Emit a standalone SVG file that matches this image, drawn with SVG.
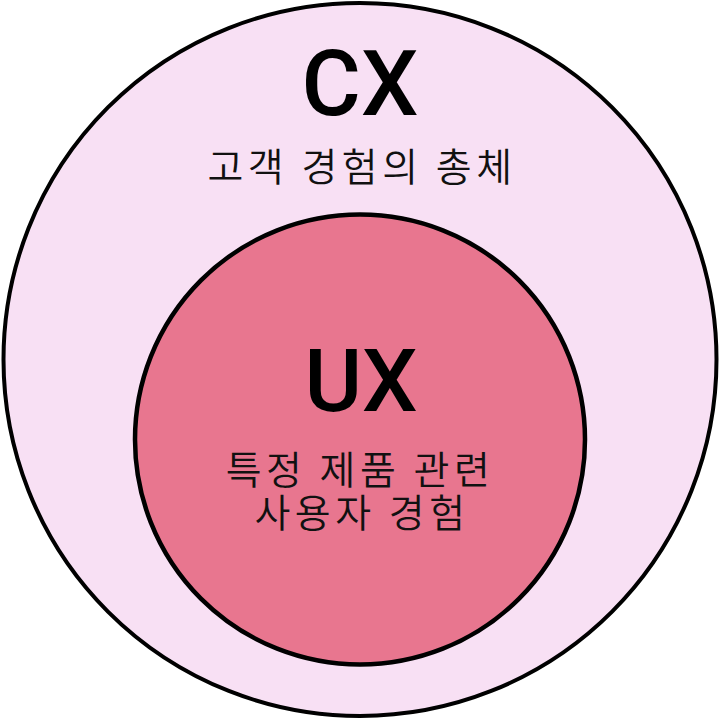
<svg xmlns="http://www.w3.org/2000/svg" width="720" height="719" viewBox="0 0 720 719">
<style>
.lat{font-family:Roboto,"Liberation Sans",Arial,sans-serif;font-weight:500;fill:#000;text-anchor:middle}
.kr{font-family:"Noto Sans CJK KR","Noto Sans",sans-serif;font-weight:350;fill:#111;text-anchor:middle;letter-spacing:4.5px}
</style>
<rect width="720" height="719" fill="#ffffff"/>
<g id="cx">
<circle cx="360" cy="359.5" r="356.5" fill="#F8E0F4" stroke="#000" stroke-width="4"/>
<text class="lat" x="360" y="115" font-size="91">CX</text>
<text class="kr" x="362" y="181" font-size="39">고객 경험의 총체</text>
</g>
<g id="ux">
<circle cx="360" cy="439.5" r="225" fill="#E8768F" stroke="#000" stroke-width="4.5"/>
<text class="lat" x="361" y="411" font-size="88">UX</text>
<text class="kr" x="360" y="484" font-size="39">특정 제품 관련</text>
<text class="kr" x="362" y="527" font-size="39">사용자 경험</text>
</g>
</svg>
